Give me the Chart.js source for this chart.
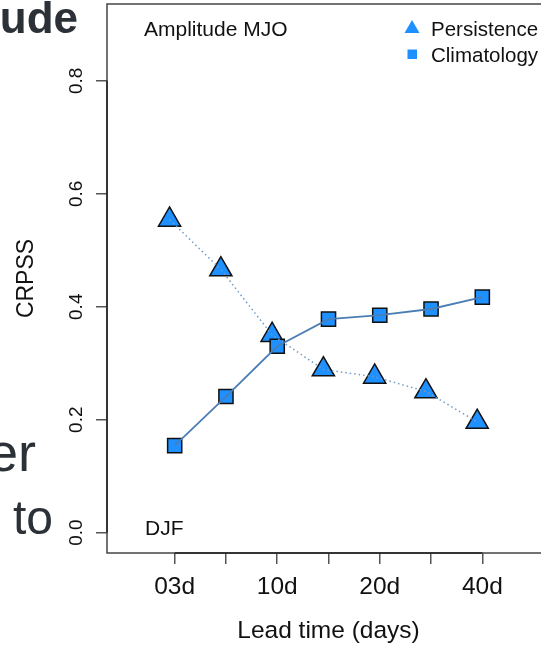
<!DOCTYPE html>
<html lang="en">
<head>
    <meta charset="UTF-8">
    <title>CRPSS Amplitude MJO</title>
    <style>
        html, body { margin: 0; padding: 0; background: #fff; overflow: hidden; }
        .chart-wrap { position: absolute; left: 0; top: 0; width: 560px; height: 645px; }
    </style>
</head>
<body>
    <div class="chart-wrap">
        <canvas class="crpss-chart" width="560" height="645"></canvas>
    </div>

    <script src="https://cdn.jsdelivr.net/npm/chart.js@4/dist/chart.umd.min.js"></script>
    <script>
        // Datos
        const leadIndex = [1, 2, 3, 4, 5, 6, 7];
        const tickLabels = ['03d', '', '10d', '', '20d', '', '40d'];
        const persistence = [0.554, 0.466, 0.350, 0.289, 0.276, 0.250, 0.196];
        const climatology = [0.154, 0.241, 0.330, 0.378, 0.385, 0.396, 0.417];
        const yTicks = [0, 0.2, 0.4, 0.6, 0.8];
        const yTickLabels = ['0.0', '0.2', '0.4', '0.6', '0.8'];

        const FILL = '#1E90FF';
        const LINE = '#4a7eb4';
        const FONT = '"Liberation Sans", Arial, sans-serif';
        const INK = '#111';
        const SLIDE_INK = '#2b3137';

        // los triángulos están algo desplazados a la izquierda en el original
        const persistencePts = persistence.map((v, i) => ({ x: leadIndex[i] - 0.1, y: v }));
        const climatologyPts = climatology.map((v, i) => ({ x: leadIndex[i], y: v }));

        // textos, leyenda, marco y etiquetas de los ejes
        const decorations = {
            id: 'decorations',
            afterDraw(chart) {
                const c = chart.ctx;
                const a = chart.chartArea;
                const xs = chart.scales.x;
                const ys = chart.scales.y;
                c.save();

                // marco
                c.strokeStyle = '#444';
                c.lineWidth = 1.5;
                c.strokeRect(a.left, a.top, a.right - a.left, a.bottom - a.top);
                c.strokeStyle = '#222';
                c.beginPath();
                c.moveTo(xs.getPixelForValue(leadIndex[0]), a.bottom);
                c.lineTo(xs.getPixelForValue(leadIndex[leadIndex.length - 1]), a.bottom);
                c.moveTo(a.left, ys.getPixelForValue(yTicks[0]));
                c.lineTo(a.left, ys.getPixelForValue(yTicks[yTicks.length - 1]));
                c.stroke();

                c.fillStyle = INK;
                c.textBaseline = 'alphabetic';

                // etiquetas eje x
                c.font = '24.5px ' + FONT;
                c.textAlign = 'center';
                leadIndex.forEach((v, i) => {
                    if (tickLabels[i]) c.fillText(tickLabels[i], xs.getPixelForValue(v), 594);
                });
                c.fillText('Lead time (days)', (a.left + a.right) / 2, 638);

                // etiquetas eje y (giradas)
                c.font = '19px ' + FONT;
                yTicks.forEach((v, i) => {
                    c.save();
                    c.translate(82, ys.getPixelForValue(v));
                    c.rotate(-Math.PI / 2);
                    c.fillText(yTickLabels[i], 0, 0);
                    c.restore();
                });
                c.save();
                c.font = '23px ' + FONT;
                c.translate(33, (a.top + a.bottom) / 2);
                c.rotate(-Math.PI / 2);
                c.fillText('CRPSS', 0, 0);
                c.restore();

                // textos dentro del panel
                c.textAlign = 'left';
                c.font = '21px ' + FONT;
                c.fillText('Amplitude MJO', 144, 36);
                c.fillText('DJF', 145, 535);

                // leyenda
                c.font = '20.5px ' + FONT;
                c.fillText('Persistence', 431, 36);
                c.fillText('Climatology', 431, 62);
                c.fillStyle = FILL;
                c.beginPath();
                c.moveTo(412, 20);
                c.lineTo(419.5, 33);
                c.lineTo(404.5, 33);
                c.closePath();
                c.fill();
                c.fillRect(407.5, 49.5, 9.5, 9.5);

                // texto de la diapositiva que asoma a la izquierda
                c.fillStyle = SLIDE_INK;
                c.textAlign = 'right';
                c.font = 'bold 44px ' + FONT;
                c.fillText('ude', 78, 33);
                c.font = '54px ' + FONT;
                c.fillText('er', 36, 471);
                c.font = '48px ' + FONT;
                c.fillText('to', 53, 534);

                c.restore();
            }
        };

        const ctx = document.querySelector('.crpss-chart').getContext('2d');
        const chart = new Chart(ctx, {
            type: 'line',
            data: {
                datasets: [
                    {
                        label: 'Climatology',
                        data: climatologyPts,
                        borderColor: LINE,
                        borderWidth: 1.8,
                        pointRadius: 0,
                        fill: false
                    },
                    {
                        label: 'Persistence',
                        data: persistencePts,
                        borderColor: '#6f9bc8',
                        borderWidth: 1.5,
                        borderDash: [1.5, 3],
                        pointRadius: 0,
                        fill: false
                    },
                    {
                        label: 'Climatology',
                        data: climatologyPts,
                        showLine: false,
                        pointStyle: 'rect',
                        pointRadius: 10,
                        pointBackgroundColor: FILL,
                        pointBorderColor: INK,
                        pointBorderWidth: 1.5
                    },
                    {
                        label: 'Persistence',
                        data: persistencePts,
                        showLine: false,
                        pointStyle: 'triangle',
                        pointRadius: 12.8,
                        pointBackgroundColor: FILL,
                        pointBorderColor: INK,
                        pointBorderWidth: 1.5
                    }
                ]
            },
            options: {
                responsive: false,
                animation: false,
                events: [],
                layout: {
                    autoPadding: false,
                    padding: { left: 0, top: 4, right: 10, bottom: 0 }
                },
                plugins: {
                    legend: { display: false },
                    tooltip: { enabled: false },
                    title: { display: false }
                },
                scales: {
                    x: {
                        type: 'linear',
                        min: -0.32,
                        max: 8.32,
                        afterBuildTicks: s => { s.ticks = leadIndex.map(v => ({ value: v })); },
                        afterFit: s => { s.height = 92; },
                        ticks: { display: false },
                        border: { display: false },
                        grid: {
                            drawOnChartArea: false,
                            drawTicks: true,
                            tickLength: 11,
                            color: '#555',
                            lineWidth: 1.5
                        }
                    },
                    y: {
                        type: 'linear',
                        min: -0.036,
                        max: 0.936,
                        afterBuildTicks: s => { s.ticks = yTicks.map(v => ({ value: v })); },
                        afterFit: s => { s.width = 107; },
                        ticks: { display: false },
                        border: { display: false },
                        grid: {
                            drawOnChartArea: false,
                            drawTicks: true,
                            tickLength: 11,
                            color: '#555',
                            lineWidth: 1.5
                        }
                    }
                }
            },
            plugins: [decorations]
        });
    </script>
</body>
</html>
